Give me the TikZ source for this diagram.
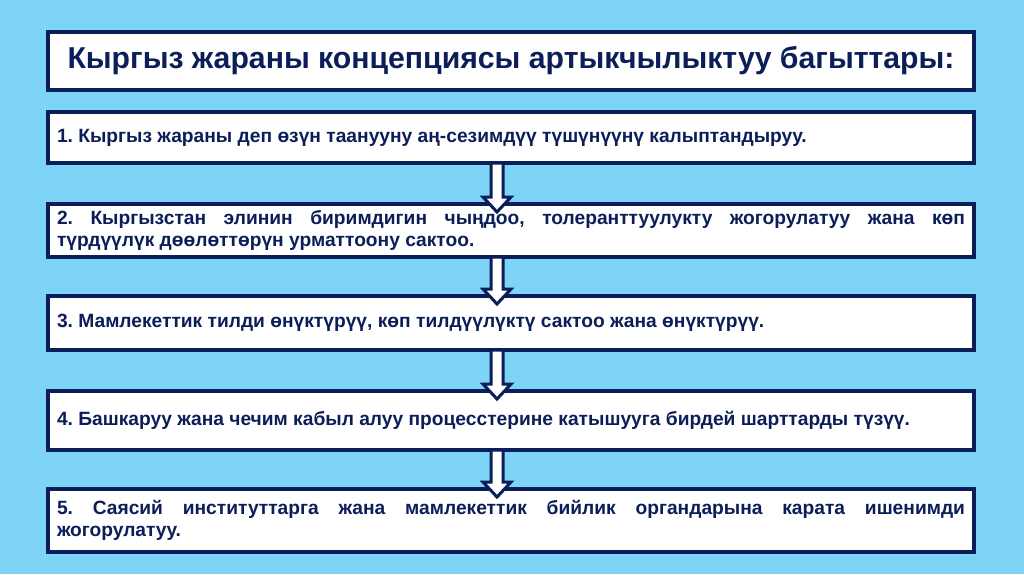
\documentclass[tikz,border=0pt]{standalone}
\usepackage{fontspec}
\setmainfont{Liberation Sans}
\usetikzlibrary{calc}
\definecolor{bgblue}{RGB}{126,212,246}
\definecolor{navy}{RGB}{12,30,90}
\frenchspacing
\begin{document}
\begin{tikzpicture}[x=1pt,y=-1pt,
  boxstyle/.style={draw=navy,line width=4pt,fill=white,rectangle,outer sep=0pt,inner sep=0pt,
    minimum width=926pt,text width=908pt,align=justify,text=navy,
    font=\fontsize{19.2}{22.5}\selectfont\bfseries\frenchspacing},
  titlestyle/.style={draw=navy,line width=4.5pt,fill=white,rectangle,outer sep=0pt,inner sep=0pt,
    minimum width=926pt,minimum height=58pt,align=center,text=navy,
    font=\fontsize{30.2}{34}\selectfont\bfseries},
  arr/.style={draw=navy,line width=3pt,fill=white,line join=miter}]
\fill[bgblue] (0,0) rectangle (1024,574);
\useasboundingbox (0,0) rectangle (1024,574);
\coordinate (ax) at (497,0);
\node[titlestyle] (t) at (511,61) {Кыргыз жараны концепциясы артыкчылыктуу багыттары:};
\node[boxstyle,minimum height=51pt] (b1) at (511,137.5) {1. Кыргыз жараны деп өзүн таанууну аң-сезимдүү түшүнүүнү калыптандыруу.};
\node[boxstyle,minimum height=53pt] (b2) at (511,230.5) {2. Кыргызстан элинин биримдигин чыңдоо, толеранттуулукту жогорулатуу жана көп\linebreak түрдүүлүк дөөлөттөрүн урматтоону сактоо.};
\node[boxstyle,minimum height=54pt] (b3) at (511,323) {3. Мамлекеттик тилди өнүктүрүү, көп тилдүүлүктү сактоо жана өнүктүрүү.};
\node[boxstyle,minimum height=59pt] (b4) at (511,420.5) {4. Башкаруу жана чечим кабыл алуу процесстерине катышууга бирдей шарттарды түзүү.};
\node[boxstyle,minimum height=63pt] (b5) at (511,520.5) {5. Саясий институттарга жана мамлекеттик бийлик органдарына карата ишенимди\linebreak жогорулатуу.};
\foreach \a/\b in {b1/b2,b2/b3,b3/b4,b4/b5}{
  \draw[arr] ($(\a.south -| ax)+(-6,0)$) -- ($(\b.north -| ax)+(-6,-7)$) -- ($(\b.north -| ax)+(-14,-7)$)
    -- ($(\b.north -| ax)+(0,8)$) -- ($(\b.north -| ax)+(14,-7)$) -- ($(\b.north -| ax)+(6,-7)$)
    -- ($(\a.south -| ax)+(6,0)$) -- cycle;
}
\end{tikzpicture}
\end{document}
